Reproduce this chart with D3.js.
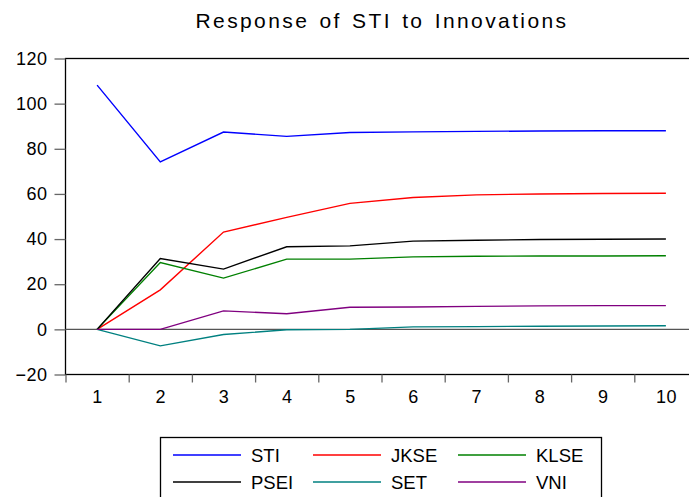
<!DOCTYPE html>
<html>
<head>
<meta charset="utf-8">
<script src="https://cdn.jsdelivr.net/npm/d3@7"></script>
<style>
  body { margin: 0; background: #fff; }
  svg { font-family: "Liberation Sans", Arial, sans-serif; }
</style>
</head>
<body>
<svg id="chart" width="689" height="497"></svg>
<script>
// periods and responses
var periods = [1, 2, 3, 4, 5, 6, 7, 8, 9, 10];
var yTicks = [-20, 0, 20, 40, 60, 80, 100, 120];

var sti  = [108.2, 74.2, 87.4, 85.5, 87.2, 87.5, 87.7, 87.9, 88.0, 88.0];
var jkse = [0, 17.5, 43.1, 49.6, 55.8, 58.4, 59.6, 60.0, 60.2, 60.3];
var klse = [0, 29.6, 22.7, 31.1, 31.1, 32.1, 32.4, 32.5, 32.5, 32.6];
var psei = [0, 31.4, 26.7, 36.6, 37.0, 39.1, 39.5, 39.8, 39.9, 40.0];
var set  = [0, -7.3, -2.3, -0.2, 0.0, 1.1, 1.2, 1.4, 1.5, 1.6];
var vni  = [0, 0, 8.2, 6.9, 9.8, 9.9, 10.2, 10.4, 10.5, 10.5];

var seriesNames = ["STI", "JKSE", "KLSE", "PSEI", "SET", "VNI"];
var seriesValues = [sti, jkse, klse, psei, set, vni];
var seriesColors = ["#0000ff", "#ff0000", "#008000", "#000000", "#008080", "#800080"];

var svg = d3.select("#chart");
var plotL = 65.5, plotT = 58.5, plotR = 697.5, plotB = 374.5;

var x = d3.scaleLinear().domain([0.5, 10.5]).range([plotL, plotR]);
var y = d3.scaleLinear().domain([-20, 120]).range([plotB, plotT]);

// title
svg.append("text")
    .attr("x", 382)
    .attr("y", 28)
    .attr("text-anchor", "middle")
    .style("font-size", "21px")
    .style("letter-spacing", "2.4px")
    .style("word-spacing", "2px")
    .text("Response of STI to Innovations");

// frame
svg.append("rect")
    .attr("x", plotL).attr("y", plotT)
    .attr("width", plotR - plotL).attr("height", plotB - plotT)
    .attr("fill", "none").attr("stroke", "#000").attr("stroke-width", 1.3);

// zero line
svg.append("line")
    .attr("x1", plotL).attr("x2", plotR)
    .attr("y1", y(0)).attr("y2", y(0))
    .attr("stroke", "#555").attr("stroke-width", 1.2);

// y axis
var yAxis = svg.append("g")
    .attr("transform", "translate(" + plotL + ",0)")
    .call(d3.axisLeft(y).tickValues(yTicks).tickSize(11).tickPadding(7));
yAxis.select(".domain").remove();
yAxis.selectAll("line").attr("stroke", "#666").attr("stroke-width", 1.3);
yAxis.selectAll("text")
    .style("font-size", "18px")
    .style("letter-spacing", "0.5px")
    .attr("fill", "#000");

// x axis: marks between periods, labels on periods
var xMarks = svg.append("g")
    .attr("transform", "translate(0," + plotB + ")")
    .call(d3.axisBottom(x).tickValues(d3.range(0.5, 11, 1)).tickSize(8).tickFormat(""));
xMarks.select(".domain").remove();
xMarks.selectAll("line").attr("stroke", "#666").attr("stroke-width", 1.3);

var xLabels = svg.append("g")
    .attr("transform", "translate(0," + plotB + ")")
    .call(d3.axisBottom(x).tickValues(periods).tickSize(0).tickPadding(16));
xLabels.select(".domain").remove();
xLabels.selectAll("text")
    .style("font-size", "18px")
    .style("letter-spacing", "0.5px")
    .attr("fill", "#000");

// lines
var line = d3.line()
    .x(function(d, i) { return x(periods[i]); })
    .y(function(d) { return y(d); });

svg.selectAll("path.series")
    .data(seriesValues)
    .enter()
    .append("path")
    .attr("class", "series")
    .attr("d", line)
    .attr("fill", "none")
    .attr("stroke", function(d, i) { return seriesColors[i]; })
    .attr("stroke-width", 1.4);

// legend
svg.append("rect")
    .attr("x", 160.5).attr("y", 437.5)
    .attr("width", 441).attr("height", 70)
    .attr("fill", "none").attr("stroke", "#000").attr("stroke-width", 1.3);

var colX = [173, 313, 458];
var rowY = [455, 482];
var legend = svg.selectAll("g.legend")
    .data(seriesNames)
    .enter()
    .append("g")
    .attr("class", "legend")
    .attr("transform", function(d, i) {
        return "translate(" + colX[i % 3] + "," + rowY[Math.floor(i / 3)] + ")";
    });
legend.append("line")
    .attr("x1", 0).attr("x2", 68)
    .attr("stroke", function(d, i) { return seriesColors[i]; })
    .attr("stroke-width", 1.4);
legend.append("text")
    .attr("x", 78)
    .attr("dy", "0.36em")
    .style("font-size", "18.5px")
    .text(function(d) { return d; });
</script>
</body>
</html>
